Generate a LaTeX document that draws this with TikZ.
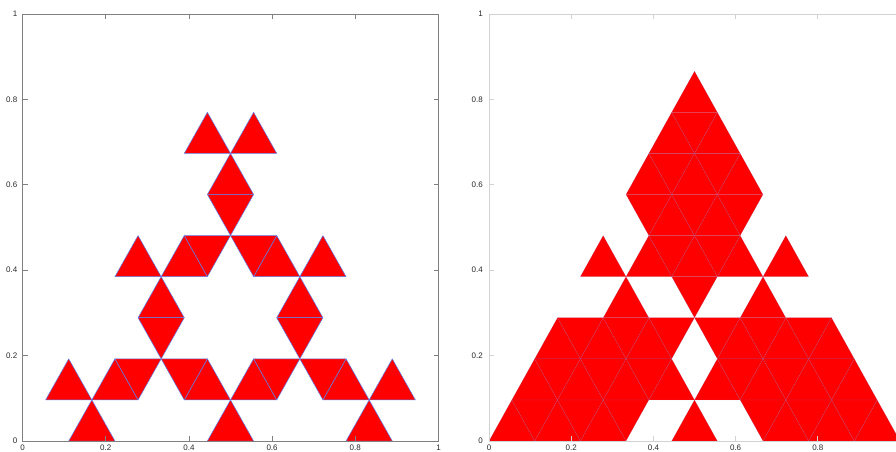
\documentclass[tikz,border=0pt]{standalone}
\usepackage{fontspec}
\setmainfont{Liberation Sans}
\definecolor{trired}{RGB}{255,0,0}
\definecolor{edgeblue}{RGB}{90,130,240}
\definecolor{axdark}{RGB}{128,128,128}
\definecolor{axlight}{RGB}{210,210,210}
\definecolor{labgray}{RGB}{40,40,40}
\begin{document}
\begin{tikzpicture}[x=1pt,y=-1pt,
  lab/.style={font=\fontsize{8}{9}\selectfont, text=labgray, inner sep=0pt},
  lefttri/.style={fill=trired, draw=edgeblue, line width=0.5pt, line join=round},
  righttri/.style={fill=trired, draw=edgeblue, draw opacity=0.3, line width=0.3pt, line join=round},
  leftaxis/.style={draw=axdark, line width=0.8pt},
  rightaxis/.style={draw=axlight, line width=0.8pt}]
\useasboundingbox (0,0) rectangle (896,452);
\clip (0,0) rectangle (896,452);

% ---------- left plot: triangles ----------
\begin{scope}[shift={(22.5pt,-441pt)}, x={(23.111pt,0pt)}, y={(0pt,41.088pt)}]
  \foreach \a/\k in {2/0,8/0,14/0, 1/1,3/1,7/1,9/1,13/1,15/1, 5/3,11/3, 4/4,6/4,10/4,12/4, 8/6, 7/7,9/7}
    \filldraw[lefttri] (\a,\k) -- ++(2,0) -- ++(-1,1) -- cycle;
  \foreach \a/\k in {4/1,6/1,10/1,12/1, 5/2,11/2, 7/4,9/4, 8/5}
    \filldraw[lefttri] (\a+1,\k) -- ++(1,1) -- ++(-2,0) -- cycle;
\end{scope}

% ---------- left plot: axes ----------
\draw[leftaxis] (22.5,14) rectangle (438.5,441);
\foreach \t in {0.2,0.4,0.6,0.8}{
  \draw[leftaxis] (22.5+416*\t,441) -- ++(0,-5);
  \draw[leftaxis] (22.5+416*\t,14) -- ++(0,5);
  \draw[leftaxis] (22.5,441-427*\t) -- ++(5,0);
  \draw[leftaxis] (438.5,441-427*\t) -- ++(-5,0);
}
\foreach \t/\s in {0/0,0.2/0.2,0.4/0.4,0.6/0.6,0.8/0.8,1/1}{
  \node[lab,anchor=north] at (22.5+416*\t,445) {\s};
  \node[lab,anchor=east] at (17.5,441-427*\t) {\s};
}

% ---------- right plot: triangles ----------
\begin{scope}[shift={(489pt,-441pt)}, x={(22.833pt,0pt)}, y={(0pt,41.088pt)}]
  \foreach \a/\k in {0/0,2/0,4/0,8/0,12/0,14/0,16/0,
                     1/1,3/1,5/1,7/1,9/1,11/1,13/1,15/1,
                     2/2,4/2,6/2,10/2,12/2,14/2,
                     5/3,11/3,
                     4/4,6/4,8/4,10/4,12/4,
                     7/5,9/5,
                     6/6,8/6,10/6,
                     7/7,9/7,
                     8/8}
    \filldraw[righttri] (\a,\k) -- ++(2,0) -- ++(-1,1) -- cycle;
  \foreach \a/\k in {1/0,3/0,5/0,11/0,13/0,15/0,
                     2/1,4/1,6/1,10/1,12/1,14/1,
                     3/2,5/2,7/2,9/2,11/2,13/2,
                     8/3,
                     7/4,9/4,
                     6/5,8/5,10/5,
                     7/6,9/6,
                     8/7}
    \filldraw[righttri] (\a+1,\k) -- ++(1,1) -- ++(-2,0) -- cycle;
\end{scope}

% ---------- right plot: axes ----------
\draw[rightaxis] (489,14) rectangle (900,441);
\foreach \t in {0.2,0.4,0.6,0.8}{
  \draw[rightaxis] (489+411*\t,441) -- ++(0,-5);
  \draw[rightaxis] (489+411*\t,14) -- ++(0,5);
  \draw[rightaxis] (489,441-427*\t) -- ++(5,0);
}
\foreach \t/\s in {0/0,0.2/0.2,0.4/0.4,0.6/0.6,0.8/0.8}{
  \node[lab,anchor=north] at (489+411*\t,445) {\s};
}
\foreach \t/\s in {0/0,0.2/0.2,0.4/0.4,0.6/0.6,0.8/0.8,1/1}{
  \node[lab,anchor=east] at (483,441-427*\t) {\s};
}
\end{tikzpicture}
\end{document}
